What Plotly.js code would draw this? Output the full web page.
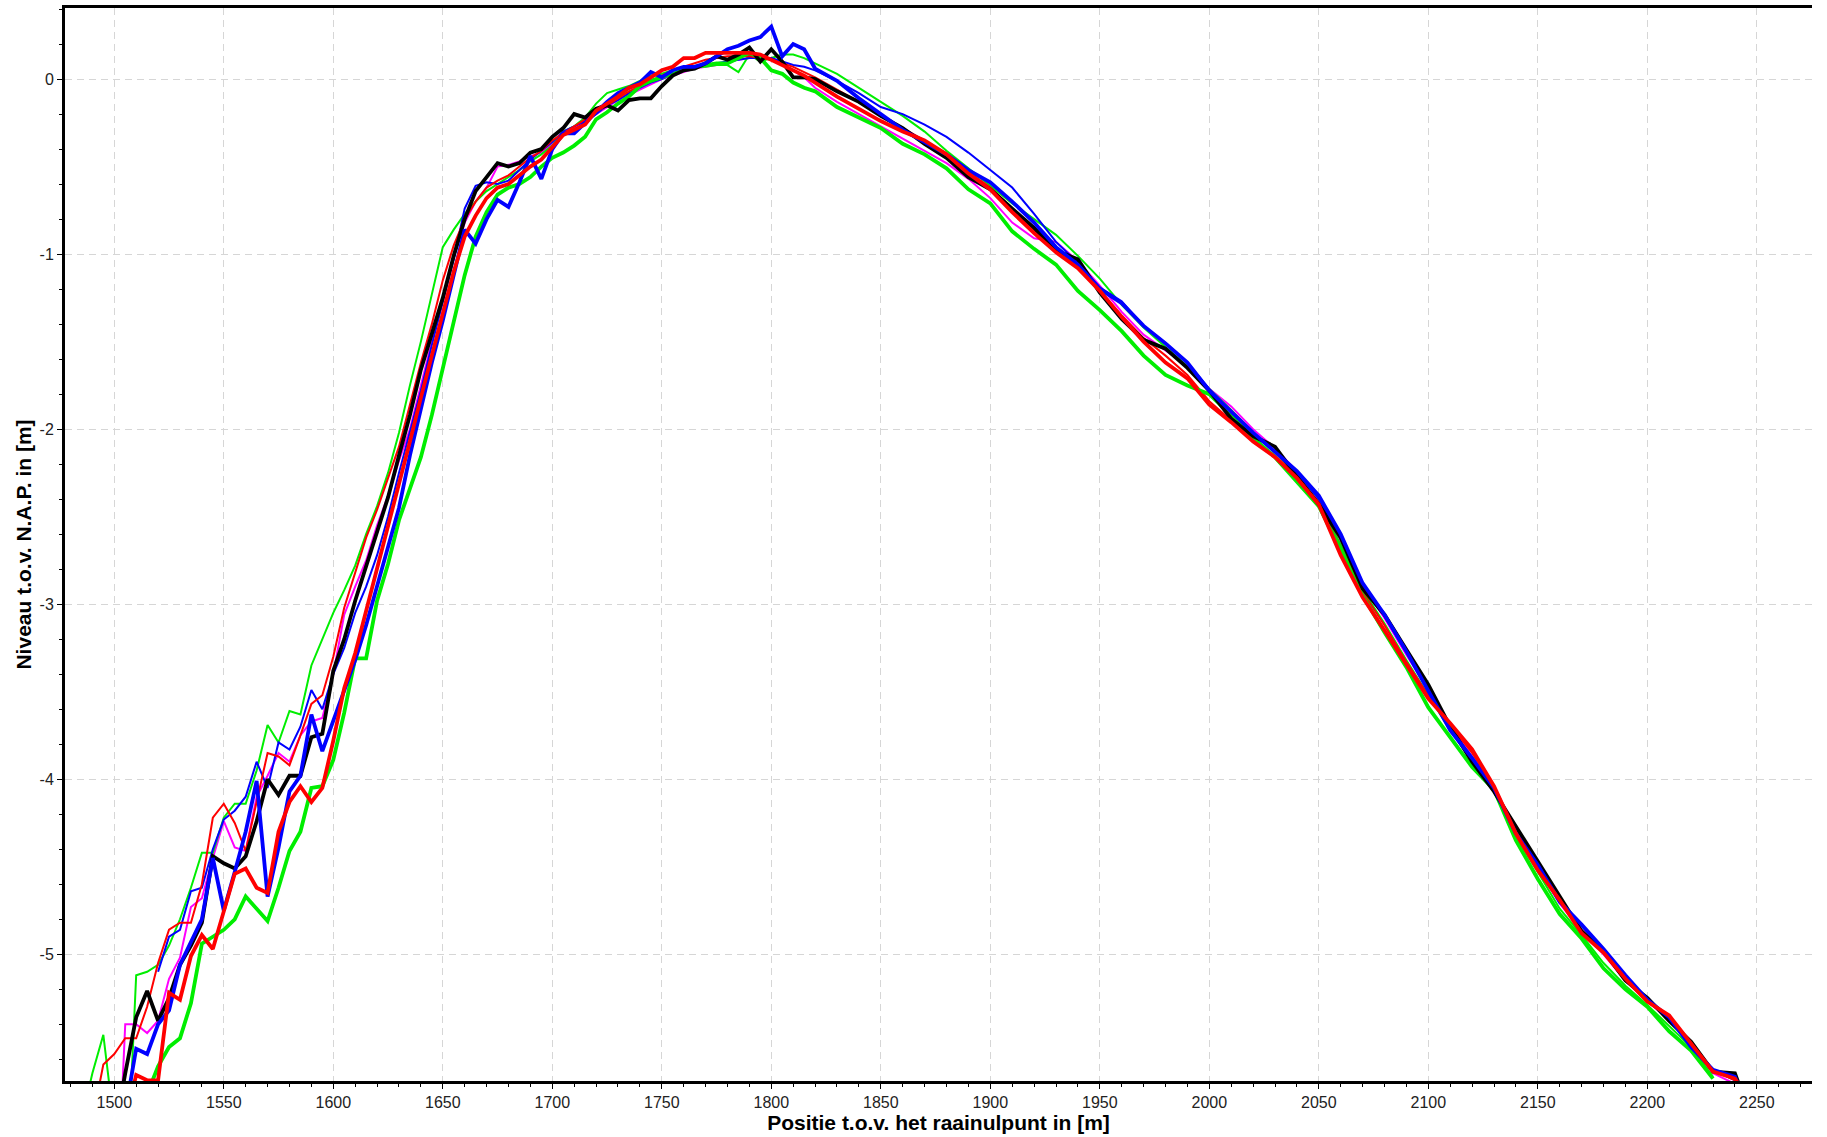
<!DOCTYPE html>
<html>
<head>
<meta charset="utf-8">
<script src="https://cdn.plot.ly/plotly-3.0.1.min.js"></script>
<style>html,body{margin:0;padding:0;background:#fff;}#chart{width:1827px;height:1137px;}</style>
</head>
<body>
<div id="chart"></div>
<script>
// Position along the transect (m)
const positions = [
  1485,1490,1495,1500,1505,1510,1515,1520,1525,1530,
  1535,1540,1545,1550,1555,1560,1565,1570,1575,1580,
  1585,1590,1595,1600,1605,1610,1615,1620,1625,1630,
  1635,1640,1645,1650,1655,1660,1665,1670,1675,1680,
  1685,1690,1695,1700,1705,1710,1715,1720,1725,1730,
  1735,1740,1745,1750,1755,1760,1765,1770,1775,1780,
  1785,1790,1795,1800,1805,1810,1815,1820,
  1830,1840,1850,1860,1870,1880,1890,1900,1910,1920,
  1930,1940,1950,1960,1970,1980,1990,2000,2010,2020,
  2030,2040,2050,2060,2070,2080,2090,2100,2110,2120,
  2130,2140,2150,2160,2170,2180,2190,2200,2210,2220,
  2230,2240,2245
];

const blackThick = [
  null,null,null,-6.04,-5.68,-5.36,-5.21,-5.38,-5.25,-5.06,
  -4.95,-4.82,-4.44,-4.48,-4.51,-4.44,-4.24,-4.00,-4.09,-3.98,
  -3.98,-3.76,-3.74,-3.38,-3.20,-2.98,-2.78,-2.58,-2.39,-2.15,
  -1.92,-1.66,-1.45,-1.25,-1.01,-0.80,-0.64,-0.56,-0.48,-0.50,
  -0.48,-0.42,-0.40,-0.33,-0.28,-0.20,-0.22,-0.17,-0.15,-0.18,
  -0.12,-0.11,-0.11,-0.04,0.02,0.05,0.06,0.09,0.13,0.11,
  0.14,0.18,0.10,0.17,0.10,0.01,0.01,0.00,
  -0.07,-0.13,-0.21,-0.28,-0.37,-0.45,-0.56,-0.63,-0.74,-0.85,
  -0.98,-1.03,-1.22,-1.37,-1.49,-1.54,-1.65,-1.78,-1.94,-2.04,
  -2.10,-2.27,-2.43,-2.62,-2.91,-3.06,-3.26,-3.46,-3.70,-3.90,
  -4.07,-4.27,-4.48,-4.67,-4.87,-4.98,-5.15,-5.25,-5.38,-5.50,
  -5.67,-5.68,-5.85
];

const blueThick = [
  null,null,null,null,-5.90,-5.54,-5.57,-5.40,-5.32,-5.06,
  -4.93,-4.80,-4.45,-4.75,-4.53,-4.30,-4.01,-4.67,-4.39,-4.07,
  -3.98,-3.63,-3.84,-3.67,-3.50,-3.32,-3.12,-2.90,-2.67,-2.45,
  -2.15,-1.88,-1.62,-1.38,-1.12,-0.86,-0.94,-0.80,-0.69,-0.73,
  -0.59,-0.44,-0.57,-0.40,-0.31,-0.31,-0.25,-0.19,-0.13,-0.08,
  -0.05,-0.02,0.04,0.01,0.05,0.07,0.07,0.09,0.13,0.17,
  0.19,0.22,0.24,0.30,0.13,0.20,0.17,0.06,
  -0.01,-0.11,-0.20,-0.29,-0.36,-0.43,-0.52,-0.59,-0.70,-0.82,
  -0.96,-1.06,-1.20,-1.28,-1.41,-1.51,-1.62,-1.78,-1.90,-2.02,
  -2.13,-2.24,-2.38,-2.60,-2.88,-3.06,-3.27,-3.49,-3.72,-3.88,
  -4.05,-4.31,-4.49,-4.70,-4.83,-4.97,-5.12,-5.26,-5.36,-5.53,
  -5.66,-5.70,-5.85
];

const blueThin = [
  null,null,null,null,null,null,null,-5.10,-4.90,-4.86,
  -4.64,-4.62,-4.40,-4.23,-4.18,-4.10,-3.90,-4.05,-3.79,-3.83,
  -3.70,-3.49,-3.60,-3.40,-3.25,-3.05,-2.90,-2.72,-2.50,-2.25,
  -2.02,-1.78,-1.52,-1.28,-1.03,-0.74,-0.61,-0.59,-0.60,-0.58,
  -0.52,-0.46,-0.41,-0.36,-0.30,-0.27,-0.24,-0.20,-0.15,-0.12,
  -0.08,-0.05,-0.02,0.00,0.03,0.05,0.07,0.08,0.09,0.10,
  0.11,0.12,0.12,0.12,0.10,0.08,0.07,0.05,
  -0.01,-0.08,-0.16,-0.20,-0.26,-0.33,-0.42,-0.52,-0.62,-0.77,
  -0.93,-1.05,-1.19,-1.27,-1.41,-1.51,-1.62,-1.77,-1.90,-2.03,
  -2.13,-2.25,-2.40,-2.62,-2.88,-3.06,-3.27,-3.48,-3.70,-3.88,
  -4.05,-4.30,-4.49,-4.69,-4.84,-4.97,-5.13,-5.26,-5.37,-5.52,
  -5.66,-5.72,null
];

const redThick = [
  null,null,null,null,-5.95,-5.69,-5.72,-5.72,-5.22,-5.26,
  -5.01,-4.89,-4.97,-4.76,-4.54,-4.51,-4.62,-4.65,-4.30,-4.13,
  -4.04,-4.13,-4.05,-3.78,-3.48,-3.28,-3.04,-2.80,-2.57,-2.32,
  -2.07,-1.82,-1.58,-1.35,-1.10,-0.90,-0.78,-0.68,-0.62,-0.60,
  -0.55,-0.50,-0.46,-0.39,-0.32,-0.29,-0.26,-0.18,-0.14,-0.10,
  -0.05,-0.03,0.01,0.05,0.07,0.12,0.12,0.15,0.15,0.15,
  0.15,0.15,0.14,0.11,0.08,0.05,0.02,-0.02,
  -0.10,-0.17,-0.24,-0.30,-0.35,-0.43,-0.54,-0.63,-0.76,-0.88,
  -0.99,-1.08,-1.21,-1.36,-1.50,-1.62,-1.71,-1.86,-1.96,-2.07,
  -2.16,-2.28,-2.43,-2.72,-2.96,-3.15,-3.35,-3.54,-3.68,-3.83,
  -4.04,-4.31,-4.52,-4.69,-4.88,-4.99,-5.14,-5.27,-5.35,-5.51,
  -5.67,-5.71,-5.80
];

const redThin = [
  null,-5.95,-5.63,-5.57,-5.48,-5.48,-5.30,-5.05,-4.86,-4.82,
  -4.82,-4.60,-4.22,-4.14,-4.25,-4.41,-4.12,-3.85,-3.87,-3.92,
  -3.75,-3.57,-3.52,-3.30,-3.02,-2.82,-2.62,-2.46,-2.28,-2.10,
  -1.86,-1.62,-1.40,-1.15,-0.95,-0.80,-0.70,-0.62,-0.58,-0.55,
  -0.50,-0.45,-0.41,-0.35,-0.31,-0.27,-0.23,-0.19,-0.15,-0.11,
  -0.07,-0.04,-0.01,0.02,0.05,0.07,0.09,0.11,0.12,0.13,
  0.13,0.13,0.12,0.11,0.09,0.07,0.04,0.01,
  -0.06,-0.13,-0.21,-0.28,-0.35,-0.43,-0.53,-0.62,-0.74,-0.86,
  -0.98,-1.07,-1.21,-1.35,-1.48,-1.58,-1.69,-1.84,-1.95,-2.06,
  -2.15,-2.27,-2.42,-2.68,-2.93,-3.12,-3.33,-3.52,-3.69,-3.85,
  -4.04,-4.30,-4.50,-4.69,-4.86,-4.99,-5.14,-5.27,-5.36,-5.51,
  -5.66,-5.72,null
];

const magentaThin = [
  null,null,null,-6.80,-5.40,-5.40,-5.45,-5.38,-5.14,-5.02,
  -4.73,-4.68,-4.45,-4.24,-4.39,-4.41,-4.10,-3.98,-3.85,-3.90,
  -3.75,-3.67,-3.65,-3.40,-3.06,-2.90,-2.75,-2.55,-2.38,-2.18,
  -2.00,-1.75,-1.50,-1.25,-1.02,-0.82,-0.70,-0.62,-0.50,-0.49,
  -0.47,-0.44,-0.42,-0.37,-0.32,-0.28,-0.24,-0.20,-0.16,-0.12,
  -0.09,-0.06,-0.03,0.00,0.02,0.04,0.06,0.07,0.08,0.10,
  0.11,0.12,0.12,0.11,0.08,0.05,0.01,-0.05,
  -0.13,-0.20,-0.27,-0.34,-0.41,-0.48,-0.57,-0.68,-0.82,-0.91,
  -0.93,-1.04,-1.18,-1.33,-1.46,-1.55,-1.64,-1.77,-1.87,-2.00,
  -2.11,-2.24,-2.40,-2.64,-2.89,-3.08,-3.29,-3.49,-3.69,-3.87,
  -4.06,-4.33,-4.51,-4.71,-4.87,-5.00,-5.15,-5.27,-5.37,-5.52,
  -5.68,-5.74,null
];

const greenThick = [
  null,null,null,null,null,null,-5.80,-5.64,-5.53,-5.48,
  -5.28,-4.94,-4.90,-4.86,-4.80,-4.67,-4.74,-4.81,-4.62,-4.41,
  -4.30,-4.05,-4.04,-3.89,-3.62,-3.31,-3.31,-2.98,-2.77,-2.52,
  -2.34,-2.16,-1.92,-1.65,-1.38,-1.12,-0.90,-0.76,-0.66,-0.62,
  -0.60,-0.56,-0.50,-0.45,-0.42,-0.38,-0.33,-0.23,-0.19,-0.14,
  -0.10,-0.04,-0.01,0.01,0.03,0.05,0.07,0.08,0.09,0.09,
  0.12,0.15,0.12,0.05,0.03,-0.02,-0.05,-0.07,
  -0.16,-0.22,-0.28,-0.37,-0.43,-0.51,-0.63,-0.71,-0.87,-0.97,
  -1.06,-1.21,-1.32,-1.44,-1.58,-1.69,-1.75,-1.80,-1.92,-2.05,
  -2.16,-2.30,-2.44,-2.69,-2.95,-3.16,-3.36,-3.59,-3.76,-3.93,
  -4.06,-4.35,-4.57,-4.77,-4.91,-5.08,-5.20,-5.30,-5.44,-5.55,
  -5.71,null,null
];

const greenThin = [
  -5.95,-5.68,-5.46,-6.00,-6.50,-5.12,-5.10,-5.06,-4.95,-4.80,
  -4.62,-4.42,-4.42,-4.22,-4.14,-4.14,-3.95,-3.69,-3.79,-3.61,
  -3.63,-3.35,-3.20,-3.05,-2.92,-2.78,-2.60,-2.44,-2.25,-2.02,
  -1.75,-1.50,-1.23,-0.96,-0.86,-0.77,-0.70,-0.64,-0.60,-0.56,
  -0.52,-0.47,-0.43,-0.38,-0.30,-0.27,-0.22,-0.14,-0.08,-0.06,
  -0.04,-0.01,0.02,0.03,0.05,0.06,0.07,0.07,0.08,0.08,
  0.04,0.14,0.10,0.12,0.14,0.14,0.12,0.09,
  0.03,-0.05,-0.13,-0.21,-0.30,-0.41,-0.51,-0.61,-0.71,-0.80,
  -0.89,-1.01,-1.14,-1.29,-1.42,-1.53,-1.64,-1.77,-1.89,-2.02,
  -2.13,-2.27,-2.42,-2.66,-2.92,-3.11,-3.32,-3.52,-3.72,-3.89,
  -4.05,-4.33,-4.53,-4.74,-4.89,-5.05,-5.18,-5.29,-5.41,-5.53,
  -5.70,null,null
];

const yTickValues = [0, -1, -2, -3, -4, -5];
const yTickLabels = ['0', '-1', '-2', '-3', '-4', '-5'];

const seriesList = [
  {y: magentaThin, color: '#ff00ff', width: 2},
  {y: greenThin,   color: '#00ee00', width: 2},
  {y: blueThin,    color: '#0000ff', width: 2},
  {y: redThin,     color: '#ff0000', width: 2},
  {y: greenThick,  color: '#00ee00', width: 3.8},
  {y: blackThick,  color: '#000000', width: 3.8},
  {y: blueThick,   color: '#0000ff', width: 3.8},
  {y: redThick,    color: '#ff0000', width: 3.8}
];

const traces = seriesList.map(s => ({
  type: 'scatter',
  mode: 'lines',
  x: positions,
  y: s.y,
  line: {color: s.color, width: s.width},
  connectgaps: false,
  showlegend: false,
  hoverinfo: 'skip'
}));

const axisFont = {family: 'Liberation Sans, Arial, sans-serif', size: 16, color: '#222'};
const titleFont = {family: 'Liberation Sans, Arial, sans-serif', size: 21, color: '#000'};

const layout = {
  width: 1827,
  height: 1137,
  margin: {l: 65, r: 15, t: 8, b: 56},
  paper_bgcolor: '#fff',
  plot_bgcolor: '#fff',
  showlegend: false,
  xaxis: {
    range: [1477.5, 2275.2],
    tickmode: 'linear', tick0: 1500, dtick: 50,
    ticks: 'outside', ticklen: 5, tickwidth: 1, tickcolor: '#000',
    showline: true, linecolor: '#000', linewidth: 3, mirror: true,
    showgrid: true, gridcolor: '#d6d6d6', gridwidth: 1, griddash: '7px,5px',
    zeroline: false,
    tickfont: axisFont,
    minor: {tickmode: 'linear', tick0: 1500, dtick: 10, ticks: 'outside', ticklen: 3, tickcolor: '#000', showgrid: false},
    title: {text: '<b>Positie t.o.v. het raainulpunt in [m]</b>', font: titleFont, standoff: 3}
  },
  yaxis: {
    range: [-5.724, 0.406],
    tickmode: 'array', tickvals: yTickValues, ticktext: yTickLabels,
    ticks: 'outside', ticklen: 5, tickwidth: 1, tickcolor: '#000',
    showline: true, linecolor: '#000', linewidth: 3,
    showgrid: true, gridcolor: '#d6d6d6', gridwidth: 1, griddash: '7px,5px',
    zeroline: false,
    tickfont: axisFont,
    minor: {tickmode: 'linear', tick0: 0, dtick: 0.2, ticks: 'outside', ticklen: 3, tickcolor: '#000', showgrid: false},
    title: {text: '<b>Niveau t.o.v. N.A.P. in [m]</b>', font: titleFont, standoff: 3}
  }
};

Plotly.newPlot('chart', traces, layout, {displayModeBar: false, staticPlot: true});
</script>
</body>
</html>
